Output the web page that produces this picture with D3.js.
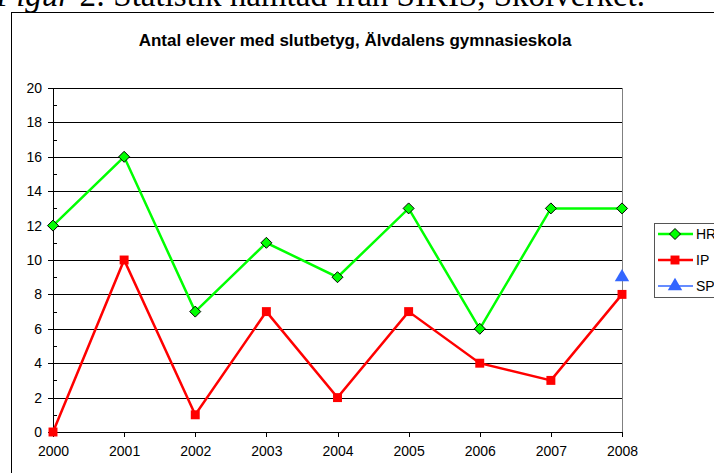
<!DOCTYPE html>
<html>
<head>
<meta charset="utf-8">
<script src="https://d3js.org/d3.v7.min.js"></script>
<style>
body { margin: 0; background: #fff; }
svg { display: block; }
.axis text { font-family: "Liberation Sans", Arial, sans-serif; font-size: 14px; fill: #000; }
</style>
</head>
<body>
<div id="chart"></div>
<script>
// data
var years = [2000, 2001, 2002, 2003, 2004, 2005, 2006, 2007, 2008];
var hr = [12, 16, 7, 11, 9, 13, 6, 13, 13];
var ip = [0, 10, 1, 7, 2, 7, 4, 3, 8];
var sp = [null, null, null, null, null, null, null, null, 9];
var yTicks = [0, 2, 4, 6, 8, 10, 12, 14, 16, 18, 20];
var yMinor = [1, 3, 5, 7, 9, 11, 13, 15, 17, 19];
var seriesNames = ["HR", "IP", "SP"];

var W = 714, H = 473;
var plotL = 53, plotR = 622, plotT = 88, plotB = 432;

var svg = d3.select("#chart").append("svg")
    .attr("width", W)
    .attr("height", H);

// caption of the document, cut at the top
var cap = svg.append("text")
    .attr("x", -4)
    .attr("y", 6)
    .style("font-family", "'Liberation Serif', 'Times New Roman', serif")
    .style("font-size", "33px");
cap.append("tspan").style("font-style", "italic").text("Figur");
cap.append("tspan").text(" 2: Statistik hämtad från SIRIS, Skolverket.");

// chart frame
svg.append("rect")
    .attr("x", 11.5).attr("y", 12.5)
    .attr("width", 720).attr("height", 480)
    .attr("fill", "none").attr("stroke", "#000");

svg.append("text")
    .attr("x", 355)
    .attr("y", 46)
    .attr("text-anchor", "middle")
    .style("font-family", "'Liberation Sans', Arial, sans-serif")
    .style("font-weight", "bold")
    .style("font-size", "17px")
    .text("Antal elever med slutbetyg, Älvdalens gymnasieskola");

var x = d3.scalePoint().domain(years).range([plotL, plotR]);
var y = d3.scaleLinear().domain([0, 20]).range([plotB, plotT]);

// gridlines
svg.append("g")
    .attr("transform", "translate(" + plotL + ",0)")
    .call(d3.axisLeft(y).tickValues(yTicks.slice(1)).tickSize(-(plotR - plotL)).tickFormat(""))
    .call(function(g){ g.select(".domain").remove(); })
    .selectAll("line").attr("stroke", "#000").attr("shape-rendering", "crispEdges");

// right border of plot
svg.append("line")
    .attr("x1", plotR + 0.5).attr("x2", plotR + 0.5)
    .attr("y1", plotT).attr("y2", plotB)
    .attr("stroke", "#808080");

// y axis
var yAxis = svg.append("g")
    .attr("class", "axis")
    .attr("transform", "translate(" + plotL + ",0)")
    .call(d3.axisLeft(y).tickValues(yTicks).tickSize(5).tickPadding(6));
yAxis.selectAll("line, path").attr("stroke", "#000").attr("shape-rendering", "crispEdges");
yAxis.select(".domain").attr("d", "M0.5," + plotT + "V" + plotB);

svg.append("g")
    .attr("transform", "translate(" + plotL + ",0)")
    .call(d3.axisRight(y).tickValues(yMinor).tickSize(4).tickFormat(""))
    .call(function(g){ g.select(".domain").remove(); })
    .selectAll("line").attr("stroke", "#000").attr("shape-rendering", "crispEdges");

// x axis
var xAxis = svg.append("g")
    .attr("class", "axis")
    .attr("transform", "translate(0," + plotB + ")")
    .call(d3.axisBottom(x).tickSize(5).tickPadding(9).tickSizeOuter(0));
xAxis.selectAll("line, path").attr("stroke", "#000").attr("shape-rendering", "crispEdges");

var colors = {HR: "#00ff00", IP: "#ff0000", SP: "#3366ff"};
var data = {HR: hr, IP: ip, SP: sp};
var symbols = {HR: d3.symbolDiamond, IP: d3.symbolSquare, SP: d3.symbolTriangle};
var symSize = {HR: 70, IP: 80, SP: 90};

var line = d3.line()
    .defined(function(d){ return d.v != null; })
    .x(function(d){ return x(d.year); })
    .y(function(d){ return y(d.v); });

function diamond(s) {
    // square diamond like Excel marker
    return "M0," + (-s) + "L" + s + ",0L0," + s + "L" + (-s) + ",0Z";
}
function markerPath(name) {
    if (name == "HR") return diamond(5.5);
    return d3.symbol().type(symbols[name]).size(symSize[name])();
}

seriesNames.forEach(function(name){
    var pts = years.map(function(yr, i){ return {year: yr, v: data[name][i]}; });
    svg.append("path")
        .datum(pts)
        .attr("fill", "none")
        .attr("stroke", colors[name])
        .attr("stroke-width", 2.5)
        .attr("d", line);
    svg.selectAll(".m" + name)
        .data(pts.filter(function(d){ return d.v != null; }))
        .enter().append("path")
        .attr("transform", function(d){ return "translate(" + x(d.year) + "," + y(d.v) + ")"; })
        .attr("d", markerPath(name))
        .attr("fill", colors[name])
        .attr("stroke", name == "HR" ? "#000" : "none")
        .attr("stroke-width", 1);
});

// legend
var lg = svg.append("g").attr("transform", "translate(654,223)");
lg.append("rect")
    .attr("x", 0.5).attr("y", 0.5)
    .attr("width", 80).attr("height", 74)
    .attr("fill", "#fff").attr("stroke", "#555");
seriesNames.forEach(function(name, i){
    var cy = 11 + i * 26;
    lg.append("line")
        .attr("x1", 4).attr("x2", 39)
        .attr("y1", cy).attr("y2", cy)
        .attr("stroke", colors[name])
        .attr("stroke-width", name == "SP" ? 1.5 : 2.5);
    lg.append("path")
        .attr("transform", "translate(21," + cy + ")")
        .attr("d", markerPath(name))
        .attr("fill", colors[name])
        .attr("stroke", name == "HR" ? "#000" : "none");
    lg.append("text")
        .attr("x", 42).attr("y", cy + 5)
        .style("font-family", "'Liberation Sans', Arial, sans-serif")
        .style("font-size", "14px")
        .text(name);
});
</script>
</body>
</html>
